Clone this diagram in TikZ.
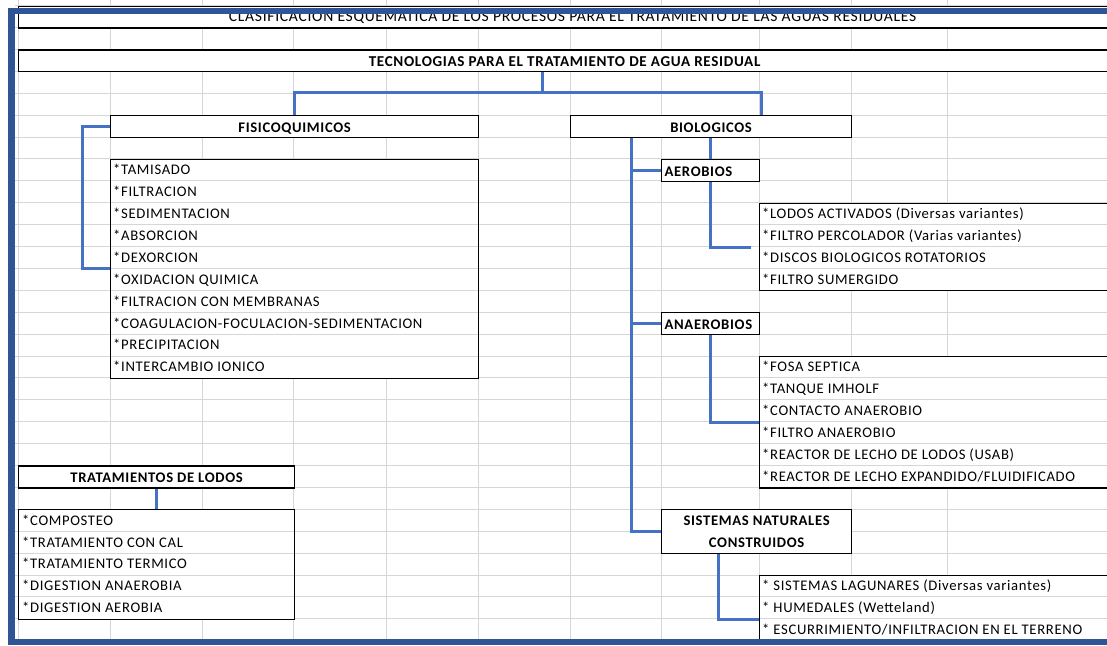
\documentclass[tikz,border=0pt]{standalone}
\usepackage{fontspec}
\setmainfont{Carlito}
\newfontfamily\sheetfont[LetterSpace=4.5]{Carlito}
\usepackage{tikz}
\usetikzlibrary{positioning, calc}
\definecolor{frameblue}{RGB}{47,85,151}
\definecolor{linkblue}{RGB}{68,114,196}
\definecolor{gridgray}{RGB}{214,214,214}
\newcommand{\cellsize}{\fontsize{14.67}{21.9}\sheetfont}
\newcommand{\listrules}[2]{%
  \foreach \k in {1,...,#2}
    \draw[gridline] ($(#1.north west)+(1,\k*21.9)$) -- ($(#1.north east)+(-1,\k*21.9)$);}

\begin{document}
\begin{tikzpicture}[
    x=1pt, y=-1pt,
    gridline/.style={draw=gridgray, line width=0.8pt},
    head/.style={rectangle, draw=black, fill=white, line width=1.2pt, inner sep=3pt, anchor=north west, minimum height=21.9pt, text height=12pt, text depth=0pt, font=\cellsize\bfseries},
    listbox/.style={rectangle, draw=black, fill=white, line width=1.2pt, inner sep=0pt, anchor=north west},
    item/.style={anchor=base west, inner sep=0pt, font=\cellsize},
    link/.style={draw=linkblue, line width=3pt}
]
\useasboundingbox (0,0) rectangle (1107,645);

\foreach \gx in {18,110,202,293,386,478,570,661,759,851,947}
  \draw[gridline] (\gx,0) -- (\gx,645);
\foreach \i in {0,...,29}
  \draw[gridline] (15,{5.5+21.9*\i}) -- (1107,{5.5+21.9*\i});

\node[head, minimum width=1108pt, text height=9pt, font=\fontsize{15.6}{21.9}\sheetfont] (title) at (18,5.5) {CLASIFICACION ESQUEMATICA DE LOS PROCESOS PARA EL TRATAMIENTO DE LAS AGUAS RESIDUALES};
\node[head, minimum width=1092pt, font=\fontsize{15.1}{21.9}\sheetfont\bfseries] (tecno) at (18,49.3) {TECNOLOGIAS PARA EL TRATAMIENTO DE AGUA RESIDUAL};
\node[head, minimum width=368pt] (fisico) at (110,115) {FISICOQUIMICOS};
\node[head, minimum width=281pt] (bio) at (570,115) {BIOLOGICOS};
\node[listbox, minimum width=368pt, minimum height=219pt] (fisicolist) at (110,158.8) {};
\node[head, text width=92pt, align=left] (aero) at (661,158.8) {AEROBIOS};
\node[listbox, minimum width=370pt, minimum height=87.6pt] (aerolist) at (759,202.6) {};
\node[head, text width=92pt, align=left] (anaero) at (661,312.1) {ANAEROBIOS};
\node[listbox, minimum width=370pt, minimum height=131.4pt] (anaerolist) at (759,355.9) {};
\node[head, minimum width=276pt] (lodos) at (18,465.4) {TRATAMIENTOS DE LODOS};
\node[listbox, minimum width=276pt, minimum height=109.5pt] (lodoslist) at (18,509.2) {};
\node[head, minimum width=190pt, minimum height=43.8pt, align=center, text height=, text depth=] (natural) at (661,509.2) {SISTEMAS NATURALES\\CONSTRUIDOS};
\node[listbox, minimum width=370pt, minimum height=65.7pt] (naturallist) at (759,574.9) {};

\listrules{fisicolist}{9}
\listrules{aerolist}{3}
\listrules{anaerolist}{5}
\listrules{lodoslist}{4}
\listrules{naturallist}{2}

\foreach \t [count=\i] in {{*TAMISADO}, {*FILTRACION}, {*SEDIMENTACION}, {*ABSORCION}, {*DEXORCION}, {*OXIDACION QUIMICA}, {*FILTRACION CON MEMBRANAS}, {*COAGULACION-FOCULACION-SEDIMENTACION}, {*PRECIPITACION}, {*INTERCAMBIO IONICO}}
  \node[item] (fq\i) at ($(fisicolist.north west)+(3,{(\i-0.5)*21.9+5})$) {\t};
\foreach \t [count=\i] in {{*LODOS ACTIVADOS (Diversas variantes)}, {*FILTRO PERCOLADOR (Varias variantes)}, {*DISCOS BIOLOGICOS ROTATORIOS}, {*FILTRO SUMERGIDO}}
  \node[item] (ae\i) at ($(aerolist.north west)+(3,{(\i-0.5)*21.9+5})$) {\t};
\foreach \t [count=\i] in {{*FOSA SEPTICA}, {*TANQUE IMHOLF}, {*CONTACTO ANAEROBIO}, {*FILTRO ANAEROBIO}, {*REACTOR DE LECHO DE LODOS (USAB)}, {*REACTOR DE LECHO EXPANDIDO/FLUIDIFICADO}}
  \node[item] (an\i) at ($(anaerolist.north west)+(3,{(\i-0.5)*21.9+5})$) {\t};
\foreach \t [count=\i] in {{*COMPOSTEO}, {*TRATAMIENTO CON CAL}, {*TRATAMIENTO TERMICO}, {*DIGESTION ANAEROBIA}, {*DIGESTION AEROBIA}}
  \node[item] (lo\i) at ($(lodoslist.north west)+(4,{(\i-0.5)*21.9+5})$) {\t};
\foreach \t [count=\i] in {{* SISTEMAS LAGUNARES (Diversas variantes)}, {* HUMEDALES (Wetteland)}, {* ESCURRIMIENTO/INFILTRACION EN EL TERRENO}}
  \node[item] (na\i) at ($(naturallist.north west)+(3,{(\i-0.5)*21.9+5})$) {\t};

\coordinate (split) at (542,92);
\coordinate (trunk) at ([xshift=-80pt]bio.south);

\draw[link] (tecno.south -| split) -- (split);
\draw[link] (fisico.north) |- (split) -| ([xshift=50pt]bio.north);
\draw[link] (fisico.west) -- ++(-28,0) |- (fisicolist.west);
\draw[link] (trunk) |- (natural.west);
\draw[link] (trunk |- aero.west) -- (aero.west);
\draw[link] (trunk |- anaero.west) -- (anaero.west);
\draw[link] (bio.south -| aero.north) -- (aero.north);
\draw[link] (aero.south) |- ([xshift=-8pt]aerolist.west);
\draw[link] (anaero.south) |- (anaerolist.west);
\draw[link] ([xshift=-38pt]natural.south) |- ([yshift=-11pt]naturallist.west);
\draw[link] (lodos.south) -- (lodoslist.north);

\fill[frameblue] (8,8) rectangle (1107,13.5);
\fill[frameblue] (8,8) rectangle (15,645);
\fill[frameblue] (8,639) rectangle (1107,645);
\end{tikzpicture}
\end{document}
